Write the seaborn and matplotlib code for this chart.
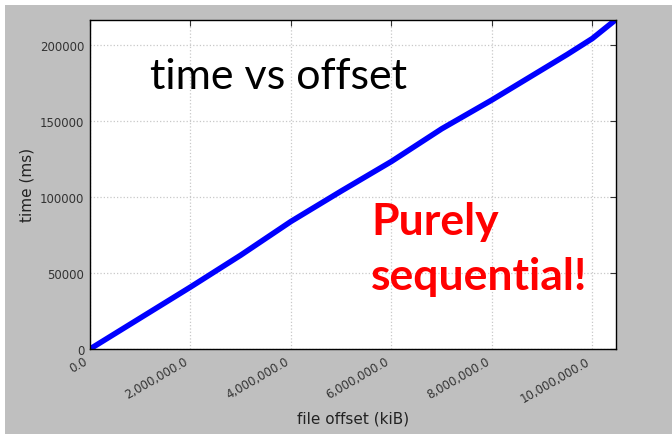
import matplotlib
matplotlib.use("Agg")
import matplotlib.pyplot as plt
import matplotlib.ticker as mticker
from matplotlib.patches import Rectangle
import pandas as pd
import seaborn as sns

# offset in kiB, time in ms
offsets = [0, 1.0e6, 2.0e6, 3.0e6, 4.0e6, 5.0e6, 6.0e6, 7.0e6, 8.0e6, 9.0e6, 9.5e6, 10.0e6, 10.47e6]
times = [0, 20400, 40800, 61800, 84000, 104000, 123500, 145000, 164000, 184000, 194000, 204500, 217000]
y_ticks = [0, 50000, 100000, 150000, 200000]
x_ticks = [0, 2e6, 4e6, 6e6, 8e6, 10e6]

df = pd.DataFrame({"offset": offsets, "time": times})

sns.set_style("white")
plt.rcParams["font.family"] = ["DejaVu Sans"]
plt.rcParams["xtick.direction"] = "in"
plt.rcParams["ytick.direction"] = "in"

fig = plt.figure(figsize=(6.72, 4.35), dpi=100, facecolor="white")
# grey canvas (screenshot has a thin white strip top/left)
fig.patches.append(Rectangle((5 / 672, 0), 1, (435 - 6) / 435, transform=fig.transFigure,
                             facecolor="#bfbfbf", edgecolor="none", zorder=-10))

ax = fig.add_axes([90 / 672, 85 / 435, 526 / 672, 329.5 / 435])
sns.lineplot(data=df, x="offset", y="time", color="#0000ff", linewidth=4, ax=ax,
             solid_capstyle="round", solid_joinstyle="round")

ax.set_xlim(0, max(offsets))
ax.set_ylim(0, max(times))
ax.set_xticks(x_ticks)
ax.set_yticks(y_ticks)
ax.xaxis.set_major_formatter(mticker.FuncFormatter(lambda v, p: f"{v:,.1f}"))
ax.yaxis.set_major_formatter(mticker.FuncFormatter(lambda v, p: f"{int(v)}"))
ax.tick_params(axis="both", which="both", direction="in", length=4, width=0.8,
               labelsize=8.5, colors="#333333", top=True, right=True, pad=4)
plt.setp(ax.get_xticklabels(), rotation=30, ha="right", rotation_mode="default")
ax.grid(True, linestyle=":", color="#c8c8c8", linewidth=0.9)
for s in ax.spines.values():
    s.set_color("black")
    s.set_linewidth(1.0)

ax.set_xlabel("file offset (kiB)", fontsize=11, color="#222222")
ax.set_ylabel("time (ms)", fontsize=11, color="#222222")

fig.text(150 / 672, (435 - 89) / 435, "time vs offset", family=["Lato", "DejaVu Sans"],
         fontsize=31, color="black", va="baseline", ha="left")
fig.text(371 / 672, (435 - 235) / 435, "Purely", family=["Lato", "DejaVu Sans"],
         fontsize=32, fontweight="bold", color="red", va="baseline", ha="left")
fig.text(371 / 672, (435 - 290) / 435, "sequential!", family=["Lato", "DejaVu Sans"],
         fontsize=32, fontweight="bold", color="red", va="baseline", ha="left")

fig.savefig("out.png", dpi=100, facecolor=fig.get_facecolor())
